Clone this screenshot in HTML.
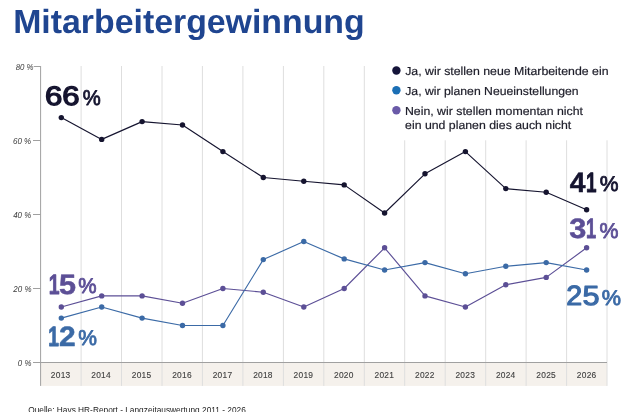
<!DOCTYPE html>
<html lang="de"><head><meta charset="utf-8"><title>Mitarbeitergewinnung</title>
<style>html,body{margin:0;padding:0;background:#fff;overflow:hidden}svg{display:block}</style></head>
<body>
<svg width="630" height="412" viewBox="0 0 630 412" font-family="'Liberation Sans', Arial, sans-serif">
<rect width="630" height="412" fill="#fff"/>
<rect x="40.6" y="362.5" width="566.4" height="23.4" fill="#f5f1ec"/>
<line x1="81.1" y1="66" x2="81.1" y2="385.9" stroke="#dedede" stroke-width="1"/>
<line x1="121.5" y1="66" x2="121.5" y2="385.9" stroke="#dedede" stroke-width="1"/>
<line x1="162.0" y1="66" x2="162.0" y2="385.9" stroke="#dedede" stroke-width="1"/>
<line x1="202.4" y1="66" x2="202.4" y2="385.9" stroke="#dedede" stroke-width="1"/>
<line x1="242.9" y1="66" x2="242.9" y2="385.9" stroke="#dedede" stroke-width="1"/>
<line x1="283.4" y1="66" x2="283.4" y2="385.9" stroke="#dedede" stroke-width="1"/>
<line x1="323.8" y1="66" x2="323.8" y2="385.9" stroke="#dedede" stroke-width="1"/>
<line x1="364.3" y1="66" x2="364.3" y2="385.9" stroke="#dedede" stroke-width="1"/>
<line x1="404.7" y1="66" x2="404.7" y2="385.9" stroke="#dedede" stroke-width="1"/>
<line x1="445.2" y1="66" x2="445.2" y2="385.9" stroke="#dedede" stroke-width="1"/>
<line x1="485.7" y1="66" x2="485.7" y2="385.9" stroke="#dedede" stroke-width="1"/>
<line x1="526.1" y1="66" x2="526.1" y2="385.9" stroke="#dedede" stroke-width="1"/>
<line x1="566.6" y1="66" x2="566.6" y2="385.9" stroke="#dedede" stroke-width="1"/>
<line x1="607.0" y1="66" x2="607.0" y2="385.9" stroke="#dedede" stroke-width="1"/>
<rect x="384" y="58" width="232" height="82.3" fill="#fff"/>
<line x1="40.6" y1="66" x2="40.6" y2="385.9" stroke="#a0a0a0" stroke-width="1"/>
<line x1="33" y1="362.5" x2="607.0" y2="362.5" stroke="#a0a0a0" stroke-width="1"/>
<line x1="33.7" y1="66.5" x2="40.6" y2="66.5" stroke="#a0a0a0" stroke-width="1"/>
<line x1="33" y1="140.5" x2="40.6" y2="140.5" stroke="#a0a0a0" stroke-width="1"/>
<line x1="33" y1="214.5" x2="40.6" y2="214.5" stroke="#a0a0a0" stroke-width="1"/>
<line x1="33" y1="288.5" x2="40.6" y2="288.5" stroke="#a0a0a0" stroke-width="1"/>
<text x="50.83" y="378.2" font-size="8.4" fill="#404040" stroke="#404040" stroke-width="0.12" textLength="19.4" lengthAdjust="spacing">2013</text>
<text x="91.29" y="378.2" font-size="8.4" fill="#404040" stroke="#404040" stroke-width="0.12" textLength="19.4" lengthAdjust="spacing">2014</text>
<text x="131.75" y="378.2" font-size="8.4" fill="#404040" stroke="#404040" stroke-width="0.12" textLength="19.4" lengthAdjust="spacing">2015</text>
<text x="172.21" y="378.2" font-size="8.4" fill="#404040" stroke="#404040" stroke-width="0.12" textLength="19.4" lengthAdjust="spacing">2016</text>
<text x="212.67" y="378.2" font-size="8.4" fill="#404040" stroke="#404040" stroke-width="0.12" textLength="19.4" lengthAdjust="spacing">2017</text>
<text x="253.13" y="378.2" font-size="8.4" fill="#404040" stroke="#404040" stroke-width="0.12" textLength="19.4" lengthAdjust="spacing">2018</text>
<text x="293.59" y="378.2" font-size="8.4" fill="#404040" stroke="#404040" stroke-width="0.12" textLength="19.4" lengthAdjust="spacing">2019</text>
<text x="334.05" y="378.2" font-size="8.4" fill="#404040" stroke="#404040" stroke-width="0.12" textLength="19.4" lengthAdjust="spacing">2020</text>
<text x="374.51" y="378.2" font-size="8.4" fill="#404040" stroke="#404040" stroke-width="0.12" textLength="19.4" lengthAdjust="spacing">2021</text>
<text x="414.97" y="378.2" font-size="8.4" fill="#404040" stroke="#404040" stroke-width="0.12" textLength="19.4" lengthAdjust="spacing">2022</text>
<text x="455.43" y="378.2" font-size="8.4" fill="#404040" stroke="#404040" stroke-width="0.12" textLength="19.4" lengthAdjust="spacing">2023</text>
<text x="495.89" y="378.2" font-size="8.4" fill="#404040" stroke="#404040" stroke-width="0.12" textLength="19.4" lengthAdjust="spacing">2024</text>
<text x="536.35" y="378.2" font-size="8.4" fill="#404040" stroke="#404040" stroke-width="0.12" textLength="19.4" lengthAdjust="spacing">2025</text>
<text x="576.81" y="378.2" font-size="8.4" fill="#404040" stroke="#404040" stroke-width="0.12" textLength="19.4" lengthAdjust="spacing">2026</text>
<polyline fill="none" stroke="#5c4f96" stroke-width="1.15" stroke-linejoin="round" points="61.3,307.0 101.7,295.9 142.1,295.9 182.5,303.3 222.9,288.5 263.3,292.2 303.8,307.0 344.2,288.5 384.6,247.8 425.0,295.9 465.4,307.0 505.8,284.8 546.2,277.4 586.6,247.8"/>
<circle cx="61.3" cy="307.0" r="2.7" fill="#5c4f96"/>
<circle cx="101.7" cy="295.9" r="2.7" fill="#5c4f96"/>
<circle cx="142.1" cy="295.9" r="2.7" fill="#5c4f96"/>
<circle cx="182.5" cy="303.3" r="2.7" fill="#5c4f96"/>
<circle cx="222.9" cy="288.5" r="2.7" fill="#5c4f96"/>
<circle cx="263.3" cy="292.2" r="2.7" fill="#5c4f96"/>
<circle cx="303.8" cy="307.0" r="2.7" fill="#5c4f96"/>
<circle cx="344.2" cy="288.5" r="2.7" fill="#5c4f96"/>
<circle cx="384.6" cy="247.8" r="2.7" fill="#5c4f96"/>
<circle cx="425.0" cy="295.9" r="2.7" fill="#5c4f96"/>
<circle cx="465.4" cy="307.0" r="2.7" fill="#5c4f96"/>
<circle cx="505.8" cy="284.8" r="2.7" fill="#5c4f96"/>
<circle cx="546.2" cy="277.4" r="2.7" fill="#5c4f96"/>
<circle cx="586.6" cy="247.8" r="2.7" fill="#5c4f96"/>

<polyline fill="none" stroke="#3b6aa6" stroke-width="1.15" stroke-linejoin="round" points="61.3,318.1 101.7,307.0 142.1,318.1 182.5,325.5 222.9,325.5 263.3,259.6 303.8,241.5 344.2,258.9 384.6,270.0 425.0,262.6 465.4,273.7 505.8,266.3 546.2,262.6 586.6,270.0"/>
<circle cx="61.3" cy="318.1" r="2.7" fill="#3b6aa6"/>
<circle cx="101.7" cy="307.0" r="2.7" fill="#3b6aa6"/>
<circle cx="142.1" cy="318.1" r="2.7" fill="#3b6aa6"/>
<circle cx="182.5" cy="325.5" r="2.7" fill="#3b6aa6"/>
<circle cx="222.9" cy="325.5" r="2.7" fill="#3b6aa6"/>
<circle cx="263.3" cy="259.6" r="2.7" fill="#3b6aa6"/>
<circle cx="303.8" cy="241.5" r="2.7" fill="#3b6aa6"/>
<circle cx="344.2" cy="258.9" r="2.7" fill="#3b6aa6"/>
<circle cx="384.6" cy="270.0" r="2.7" fill="#3b6aa6"/>
<circle cx="425.0" cy="262.6" r="2.7" fill="#3b6aa6"/>
<circle cx="465.4" cy="273.7" r="2.7" fill="#3b6aa6"/>
<circle cx="505.8" cy="266.3" r="2.7" fill="#3b6aa6"/>
<circle cx="546.2" cy="262.6" r="2.7" fill="#3b6aa6"/>
<circle cx="586.6" cy="270.0" r="2.7" fill="#3b6aa6"/>

<polyline fill="none" stroke="#15142f" stroke-width="1.15" stroke-linejoin="round" points="61.3,117.6 101.7,139.4 142.1,121.6 182.5,125.0 222.9,151.6 263.3,177.5 303.8,181.2 344.2,184.9 384.6,213.0 425.0,173.8 465.4,151.6 505.8,188.6 546.2,192.3 586.6,209.7"/>
<circle cx="61.3" cy="117.6" r="2.7" fill="#15142f"/>
<circle cx="101.7" cy="139.4" r="2.7" fill="#15142f"/>
<circle cx="142.1" cy="121.6" r="2.7" fill="#15142f"/>
<circle cx="182.5" cy="125.0" r="2.7" fill="#15142f"/>
<circle cx="222.9" cy="151.6" r="2.7" fill="#15142f"/>
<circle cx="263.3" cy="177.5" r="2.7" fill="#15142f"/>
<circle cx="303.8" cy="181.2" r="2.7" fill="#15142f"/>
<circle cx="344.2" cy="184.9" r="2.7" fill="#15142f"/>
<circle cx="384.6" cy="213.0" r="2.7" fill="#15142f"/>
<circle cx="425.0" cy="173.8" r="2.7" fill="#15142f"/>
<circle cx="465.4" cy="151.6" r="2.7" fill="#15142f"/>
<circle cx="505.8" cy="188.6" r="2.7" fill="#15142f"/>
<circle cx="546.2" cy="192.3" r="2.7" fill="#15142f"/>
<circle cx="586.6" cy="209.7" r="2.7" fill="#15142f"/>

<text id="title" text-rendering="geometricPrecision" x="13.18" y="33.00" font-size="33.60" font-weight="bold" font-style="normal" fill="#1f4590" textLength="351.51" lengthAdjust="spacingAndGlyphs">Mitarbeitergewinnung</text>
<text id="d66" text-rendering="geometricPrecision" y="105.00" font-size="26.60" fill="#15142f" stroke="#15142f" stroke-linejoin="round"><tspan id="d66_0" x="45.00" textLength="17.33" lengthAdjust="spacingAndGlyphs" font-weight="normal" stroke-width="1.3">6</tspan><tspan id="d66_1" x="62.21" textLength="17.32" lengthAdjust="spacingAndGlyphs" font-weight="normal" stroke-width="1.3">6</tspan></text>
<text id="p66" text-rendering="geometricPrecision" x="82.75" y="105.00" font-size="21.40" font-weight="normal" font-style="normal" fill="#15142f" stroke="#15142f" stroke-width="0.8" stroke-linejoin="round" textLength="18.00" lengthAdjust="spacingAndGlyphs">%</text>
<text id="d15" text-rendering="geometricPrecision" y="294.00" font-size="27.90" fill="#5c4f96" stroke="#5c4f96" stroke-linejoin="round"><tspan id="d15_0" x="48.79" textLength="10.80" lengthAdjust="spacingAndGlyphs" font-weight="bold" stroke-width="0.9">1</tspan><tspan id="d15_1" x="59.14" textLength="17.01" lengthAdjust="spacingAndGlyphs" font-weight="bold" stroke-width="0.5">5</tspan></text>
<text id="p15" text-rendering="geometricPrecision" x="78.30" y="293.00" font-size="21.40" font-weight="normal" font-style="normal" fill="#5c4f96" stroke="#5c4f96" stroke-width="0.8" stroke-linejoin="round" textLength="18.35" lengthAdjust="spacingAndGlyphs">%</text>
<text id="d12" text-rendering="geometricPrecision" y="346.00" font-size="27.90" fill="#3b6aa6" stroke="#3b6aa6" stroke-linejoin="round"><tspan id="d12_0" x="48.35" textLength="10.66" lengthAdjust="spacingAndGlyphs" font-weight="bold" stroke-width="0.9">1</tspan><tspan id="d12_1" x="59.03" textLength="16.66" lengthAdjust="spacingAndGlyphs" font-weight="bold" stroke-width="0.5">2</tspan></text>
<text id="p12" text-rendering="geometricPrecision" x="78.29" y="345.00" font-size="21.40" font-weight="normal" font-style="normal" fill="#3b6aa6" stroke="#3b6aa6" stroke-width="0.8" stroke-linejoin="round" textLength="18.73" lengthAdjust="spacingAndGlyphs">%</text>
<text id="d41" text-rendering="geometricPrecision" y="192.00" font-size="27.90" fill="#15142f" stroke="#15142f" stroke-linejoin="round"><tspan id="d41_0" x="569.85" textLength="15.74" lengthAdjust="spacingAndGlyphs" font-weight="bold" stroke-width="0.5">4</tspan><tspan id="d41_1" x="586.12" textLength="10.53" lengthAdjust="spacingAndGlyphs" font-weight="bold" stroke-width="0.9">1</tspan></text>
<text id="p41" text-rendering="geometricPrecision" x="599.67" y="191.00" font-size="21.40" font-weight="normal" font-style="normal" fill="#15142f" stroke="#15142f" stroke-width="0.8" stroke-linejoin="round" textLength="18.79" lengthAdjust="spacingAndGlyphs">%</text>
<text id="d31" text-rendering="geometricPrecision" y="238.00" font-size="27.90" fill="#5c4f96" stroke="#5c4f96" stroke-linejoin="round"><tspan id="d31_0" x="569.37" textLength="17.06" lengthAdjust="spacingAndGlyphs" font-weight="bold" stroke-width="0.5">3</tspan><tspan id="d31_1" x="586.06" textLength="10.11" lengthAdjust="spacingAndGlyphs" font-weight="bold" stroke-width="0.9">1</tspan></text>
<text id="p31" text-rendering="geometricPrecision" x="599.40" y="238.00" font-size="21.40" font-weight="normal" font-style="normal" fill="#5c4f96" stroke="#5c4f96" stroke-width="0.8" stroke-linejoin="round" textLength="18.99" lengthAdjust="spacingAndGlyphs">%</text>
<text id="d25" text-rendering="geometricPrecision" y="305.00" font-size="27.70" fill="#3b6aa6" stroke="#3b6aa6" stroke-linejoin="round"><tspan id="d25_0" x="566.23" textLength="15.97" lengthAdjust="spacingAndGlyphs" font-weight="normal" stroke-width="1.1">2</tspan><tspan id="d25_1" x="582.41" textLength="17.07" lengthAdjust="spacingAndGlyphs" font-weight="normal" stroke-width="1.1">5</tspan></text>
<text id="p25" text-rendering="geometricPrecision" x="601.72" y="305.00" font-size="21.40" font-weight="normal" font-style="normal" fill="#3b6aa6" stroke="#3b6aa6" stroke-width="0.8" stroke-linejoin="round" textLength="19.27" lengthAdjust="spacingAndGlyphs">%</text>
<text id="l1" text-rendering="geometricPrecision" x="405.20" y="75.00" font-size="11.60" font-weight="normal" font-style="normal" fill="#1e1e2a" stroke="#1e1e2a" stroke-width="0.2" stroke-linejoin="round" textLength="203.31" lengthAdjust="spacingAndGlyphs">Ja, wir stellen neue Mitarbeitende ein</text>
<text id="l2" text-rendering="geometricPrecision" x="405.22" y="95.00" font-size="11.60" font-weight="normal" font-style="normal" fill="#1e1e2a" stroke="#1e1e2a" stroke-width="0.2" stroke-linejoin="round" textLength="173.41" lengthAdjust="spacingAndGlyphs">Ja, wir planen Neueinstellungen</text>
<text id="l3" text-rendering="geometricPrecision" x="404.91" y="115.00" font-size="11.60" font-weight="normal" font-style="normal" fill="#1e1e2a" stroke="#1e1e2a" stroke-width="0.2" stroke-linejoin="round" textLength="178.11" lengthAdjust="spacingAndGlyphs">Nein, wir stellen momentan nicht</text>
<text id="l4" text-rendering="geometricPrecision" x="405.08" y="129.00" font-size="11.60" font-weight="normal" font-style="normal" fill="#1e1e2a" stroke="#1e1e2a" stroke-width="0.2" stroke-linejoin="round" textLength="166.21" lengthAdjust="spacingAndGlyphs">ein und planen dies auch nicht</text>
<text id="a80" text-rendering="geometricPrecision" x="15.63" y="70.00" font-size="8.60" font-weight="normal" font-style="italic" fill="#3a3a3a" textLength="17.87" lengthAdjust="spacingAndGlyphs">80 %</text>
<text id="a60" text-rendering="geometricPrecision" x="12.98" y="144.00" font-size="8.60" font-weight="normal" font-style="italic" fill="#3a3a3a" textLength="18.28" lengthAdjust="spacingAndGlyphs">60 %</text>
<text id="a40" text-rendering="geometricPrecision" x="13.20" y="218.00" font-size="8.60" font-weight="normal" font-style="italic" fill="#3a3a3a" textLength="18.05" lengthAdjust="spacingAndGlyphs">40 %</text>
<text id="a20" text-rendering="geometricPrecision" x="13.37" y="292.00" font-size="8.60" font-weight="normal" font-style="italic" fill="#3a3a3a" textLength="18.18" lengthAdjust="spacingAndGlyphs">20 %</text>
<text id="a0" text-rendering="geometricPrecision" x="17.87" y="366.00" font-size="8.60" font-weight="normal" font-style="italic" fill="#3a3a3a" textLength="13.54" lengthAdjust="spacingAndGlyphs">0 %</text>
<circle cx="396.4" cy="70.5" r="4.2" fill="#15143a"/>
<circle cx="396.4" cy="90.3" r="4.2" fill="#1b6fb5"/>
<circle cx="396.4" cy="110.2" r="4.2" fill="#6a5aa8"/>
<text x="28.2" y="412.8" font-size="8.8" fill="#1c1c1c" textLength="217.6" lengthAdjust="spacingAndGlyphs">Quelle: Hays HR-Report - Langzeitauswertung 2011 - 2026</text>
</svg>
</body></html>
